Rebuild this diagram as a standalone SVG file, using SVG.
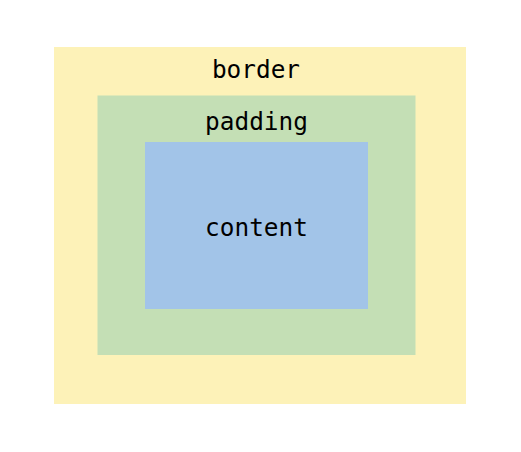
<svg xmlns="http://www.w3.org/2000/svg" width="521" height="452" viewBox="0 0 521 452">
<style>
text{font-family:"DejaVu Sans Mono","Liberation Mono",monospace;font-size:24.4px;fill:#000;text-anchor:middle}
</style>
<rect width="521" height="452" fill="#ffffff"/>
<g id="border">
<rect x="54" y="47" width="412" height="357" fill="#fdf2b8"/>
<text x="256" y="77.7">border</text>
</g>
<g id="padding">
<rect x="97.5" y="95.5" width="318" height="259.5" fill="#c4dfb5"/>
<text x="256.5" y="129.5">padding</text>
</g>
<g id="content">
<rect x="145" y="142" width="223" height="167" fill="#a2c4e8"/>
<text x="256.5" y="235.7">content</text>
</g>
<g id="connectors"/>
</svg>
